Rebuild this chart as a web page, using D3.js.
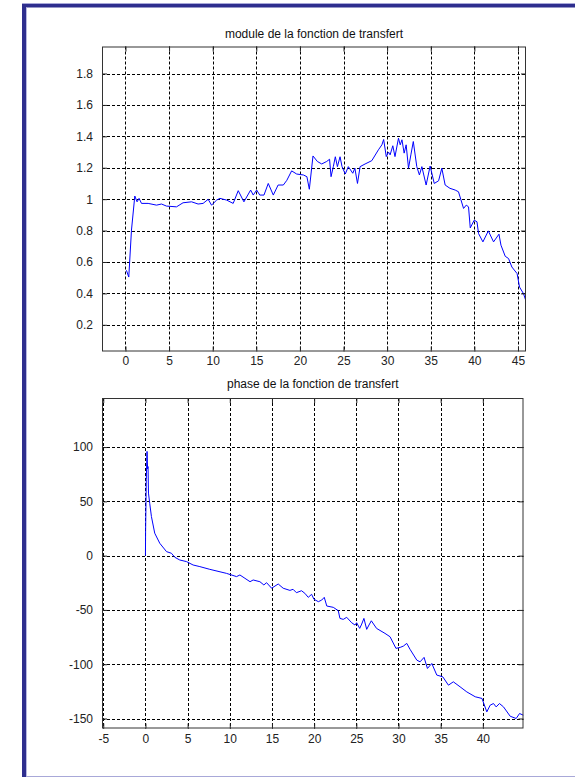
<!DOCTYPE html>
<html><head><meta charset="utf-8">
<script src="https://cdn.jsdelivr.net/npm/d3@7"></script>
<style>
html,body{margin:0;padding:0;background:#fff;}
svg{display:block;}
text{font-family:"Liberation Sans",Arial,sans-serif;}
</style></head>
<body>
<script>
// ---- data ----
const modFreq = [0.11,0.38,0.69,1.07,1.33,1.56,1.84,2.6,3.56,4.13,4.7,5.85,6.6,7.58,8.33,8.9,9.48,9.87,10.45,10.83,11.6,12.35,12.93,13.58,14.35,14.65,15.04,15.4,15.88,16.37,16.95,17.5,18.1,18.5,19.05,19.63,20.4,20.8,21.08,21.5,22.0,22.5,23.07,23.4,23.57,23.83,24.06,24.3,24.6,24.83,25.2,25.55,26.06,26.3,26.6,26.9,27.47,28.24,29.0,29.4,29.6,29.9,30.15,30.34,30.65,30.9,31.3,31.5,31.7,31.95,32.18,32.45,32.72,33.0,33.4,33.7,33.98,34.47,34.93,35.4,35.9,36.27,36.65,37.2,37.8,38.18,38.76,39.07,39.33,39.53,39.98,40.3,40.48,40.98,41.6,42.2,42.82,43.05,43.54,43.92,44.3,44.9,45.18,45.64,45.92];
const modValues = [0.547,0.504,0.803,1.02,0.983,1.005,0.973,0.973,0.962,0.969,0.956,0.951,0.977,0.983,0.969,0.973,0.999,0.962,0.994,1.005,0.994,0.973,1.054,0.983,1.058,1.026,1.058,1.026,1.026,1.10,1.026,1.09,1.09,1.12,1.18,1.16,1.154,1.143,1.063,1.275,1.24,1.224,1.24,1.254,1.143,1.207,1.27,1.207,1.27,1.207,1.16,1.207,1.165,1.197,1.10,1.207,1.224,1.245,1.314,1.346,1.38,1.271,1.30,1.282,1.34,1.271,1.388,1.346,1.378,1.293,1.346,1.197,1.282,1.367,1.207,1.154,1.207,1.09,1.211,1.10,1.117,1.197,1.09,1.069,1.058,1.047,0.941,0.962,0.951,0.817,0.866,0.856,0.781,0.728,0.798,0.728,0.777,0.707,0.636,0.622,0.568,0.526,0.44,0.398,0.35];

const phaseFreq = [0,0.02,0.1,0.19,0.25,0.31,0.36,0.51,0.71,1.1,1.7,2.5,3.08,3.48,4.07,4.87,5.65,6.45,7.63,9.6,10.8,11.2,11.8,12.4,12.77,13.57,14.04,14.36,14.96,15.74,16.33,17.13,17.5,17.9,18.5,18.9,19.3,19.7,19.98,20.5,20.9,21.2,21.5,22.27,22.86,23.06,23.45,23.86,24.45,24.84,25.04,25.4,25.64,25.9,26.23,26.5,26.78,27.4,28.4,29.0,29.7,30.2,30.58,30.98,31.37,32.17,32.56,33.03,33.43,33.95,34.54,35.25,35.92,36.5,37.3,38.1,39.1,39.9,40.47,40.87,41.26,41.58,41.97,42.45,43.24,43.95,44.35,44.82];
const phaseValues = [0,23,70,96,80,82,57.6,48,36,20.7,11.4,3.7,2.2,-1.5,-4,-5.5,-8.6,-10.1,-12.6,-16.3,-19.3,-17.8,-20.9,-24,-22.4,-24,-27,-24.9,-30,-26.1,-30,-32,-31,-34.1,-32.3,-34.7,-38.4,-35.6,-40.2,-42.4,-40.9,-38.4,-46.4,-47.6,-50.7,-57.8,-58.7,-56.8,-61.8,-63.9,-61.8,-67,-63,-57.8,-67.9,-63.9,-60,-67,-71.6,-74.7,-85.4,-84.5,-83.3,-80.8,-86.3,-96.2,-97.8,-93.7,-103.9,-99.3,-110,-111.6,-119.3,-116.2,-120.8,-125.5,-130,-131.5,-143.9,-137.7,-136.2,-139.3,-136.2,-139.3,-147.9,-150,-145.4,-147];

const modXTicks = [0,5,10,15,20,25,30,35,40,45];
const modYTicks = [0.2,0.4,0.6,0.8,1,1.2,1.4,1.6,1.8];
const phaseXTicks = [-5,0,5,10,15,20,25,30,35,40];
const phaseYTicks = [-150,-100,-50,0,50,100];

const modTitle = "module de la fonction de transfert";
const phaseTitle = "phase de la fonction de transfert";

// ---- drawing ----
const W = 575, H = 777;
const FONT = "12px";
const svg = d3.select("body").append("svg").attr("width", W).attr("height", H);
svg.append("rect").attr("width", W).attr("height", H).attr("fill", "#fff");

// window frame
svg.append("rect").attr("x", 22).attr("y", 3).attr("width", W - 22).attr("height", 1).attr("fill", "#a8a8d8");
svg.append("rect").attr("x", 22).attr("y", 4).attr("width", W - 22).attr("height", 3.5).attr("fill", "#2e2e8e");
svg.append("rect").attr("x", 22).attr("y", 4).attr("width", 4).attr("height", H - 4).attr("fill", "#2e2e8e");
svg.append("rect").attr("x", 26).attr("y", 7.5).attr("width", 1).attr("height", H).attr("fill", "#b8b8e0");
svg.append("rect").attr("x", 26).attr("y", 776).attr("width", W - 26).attr("height", 1).attr("fill", "#a8a8d8");

const fmt = d => String(d);

function panel(opts) {
  const {left, right, top, bottom, xDomain, yDomain, xTicks, yTicks, xs, ys, title, titleY, xLabelY} = opts;
  const x = d3.scaleLinear().domain(xDomain).range([left, right]);
  const y = d3.scaleLinear().domain(yDomain).range([bottom, top]);
  const g = svg.append("g");

  // grid
  const dash = "3,2";
  g.selectAll(".gx").data(xTicks).join("line")
    .attr("x1", d => Math.round(x(d)) + 0.5).attr("x2", d => Math.round(x(d)) + 0.5)
    .attr("y1", top).attr("y2", bottom)
    .attr("stroke", "#000").attr("stroke-width", 1).attr("stroke-dasharray", dash);
  g.selectAll(".gy").data(yTicks).join("line")
    .attr("y1", d => Math.round(y(d)) + 0.5).attr("y2", d => Math.round(y(d)) + 0.5)
    .attr("x1", left).attr("x2", right)
    .attr("stroke", "#000").attr("stroke-width", 1).attr("stroke-dasharray", dash);

  // data line
  const pts = xs.map((v, i) => [v, ys[i]]);
  const clipId = "clip" + Math.round(top);
  svg.append("clipPath").attr("id", clipId).append("rect")
    .attr("x", left).attr("y", top).attr("width", right - left).attr("height", bottom - top);
  g.append("path").datum(pts)
    .attr("clip-path", `url(#${clipId})`)
    .attr("fill", "none").attr("stroke", "#0000ff").attr("stroke-width", 1)
    .attr("d", d3.line().x(d => x(d[0])).y(d => y(d[1])));

  // axes with inward ticks on all sides
  const tick = 5;
  const axB = g.append("g").attr("transform", `translate(0,${bottom})`)
    .call(d3.axisBottom(x).tickValues(xTicks).tickSize(-tick).tickFormat(fmt).tickPadding(tick + 6));
  const axT = g.append("g").attr("transform", `translate(0,${top})`)
    .call(d3.axisTop(x).tickValues(xTicks).tickSize(-tick).tickFormat(""));
  const axL = g.append("g").attr("transform", `translate(${left},0)`)
    .call(d3.axisLeft(y).tickValues(yTicks).tickSize(-tick).tickFormat(fmt).tickPadding(tick + 4));
  const axR = g.append("g").attr("transform", `translate(${right},0)`)
    .call(d3.axisRight(y).tickValues(yTicks).tickSize(-tick).tickFormat(""));
  [axB, axT, axL, axR].forEach(a => {
    a.select(".domain").remove();
    a.selectAll("line").attr("stroke", "#222");
    a.selectAll("text").attr("fill", "#222").style("font-size", FONT)
      .style("font-family", "'Liberation Sans', Arial, sans-serif");
  });
  axB.selectAll(".tick text").attr("y", xLabelY - bottom).attr("dy", 0);

  // box
  g.append("rect").attr("x", left + 0.5).attr("y", top + 0.5)
    .attr("width", right - left - 1).attr("height", bottom - top - 1)
    .attr("fill", "none").attr("stroke", "#333").attr("stroke-width", 1);

  // title
  svg.append("text").attr("x", (left + right) / 2).attr("y", titleY)
    .attr("text-anchor", "middle").attr("fill", "#111")
    .style("font-size", FONT).text(title);
}

panel({
  left: 102, right: 526, top: 46.5, bottom: 351.5,
  xDomain: [-2.69, 45.92], yDomain: [0.03, 1.972],
  xTicks: modXTicks, yTicks: modYTicks,
  xs: modFreq, ys: modValues,
  title: modTitle, titleY: 38, xLabelY: 365
});

panel({
  left: 102, right: 523.5, top: 398, bottom: 728.5,
  xDomain: [-5.15, 44.82], yDomain: [-159.2, 145.2],
  xTicks: phaseXTicks, yTicks: phaseYTicks,
  xs: phaseFreq, ys: phaseValues,
  title: phaseTitle, titleY: 388, xLabelY: 743
});
</script>
</body></html>
